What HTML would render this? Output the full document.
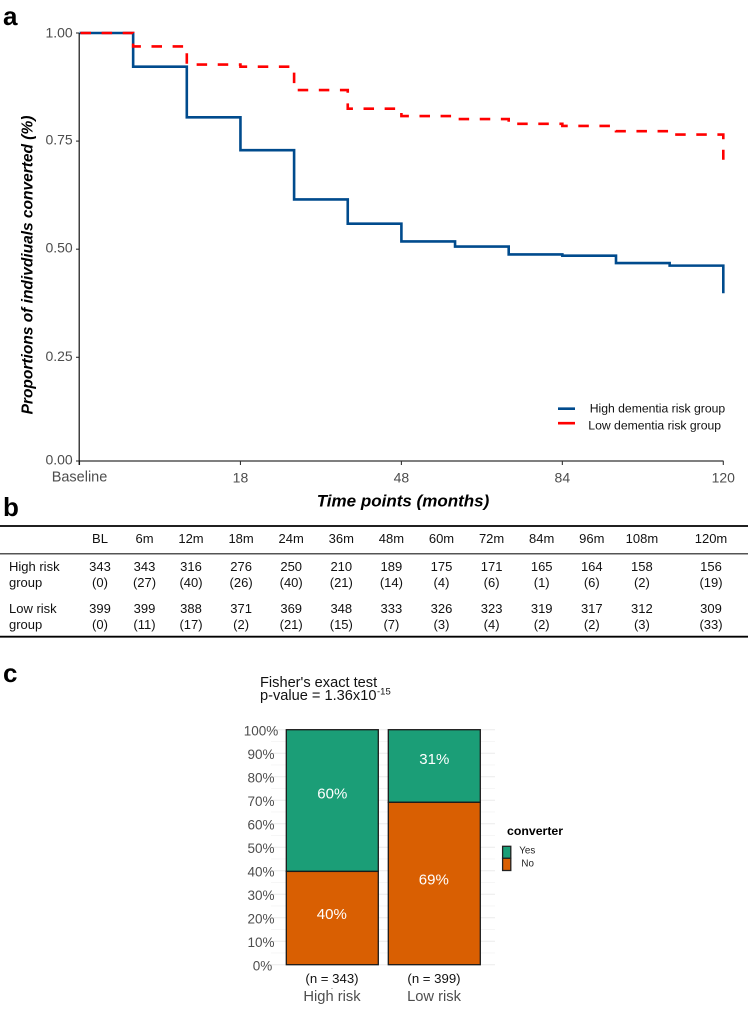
<!DOCTYPE html>
<html lang="en">
<head>
<meta charset="utf-8">
<title>Dementia risk group conversion figure</title>
<style>
html,body{margin:0;padding:0;background:#fff;}
svg{display:block;font-family:"Liberation Sans",Arial,sans-serif;}
text{dominant-baseline:central;}
</style>
</head>
<body>
<svg id="fig" xmlns="http://www.w3.org/2000/svg" width="748" height="1014" viewBox="0 0 748 1014">
  <rect width="748" height="1014" fill="#fff"/>
  <text x="3" y="16" font-size="26" font-weight="bold">a</text>
  <text x="3" y="507" font-size="26" font-weight="bold">b</text>
  <text x="3" y="673" font-size="26" font-weight="bold">c</text>
  <g id="km"></g>
  <g id="tbl"></g>
  <g id="bars"></g>
</svg>
<script>
// Panel a data
const timePoints = ["BL","6m","12m","18m","24m","36m","48m","60m","72m","84m","96m","108m","120m"];
const highRiskSurvival = [1,0.922,0.805,0.729,0.615,0.559,0.518,0.506,0.488,0.485,0.468,0.462,0.398];
const lowRiskSurvival = [1,0.969,0.927,0.922,0.868,0.825,0.808,0.801,0.790,0.785,0.773,0.765,0.707];
const yTickValues = [1,0.75,0.5,0.25,0];
const yTickLabels = ["1.00","0.75","0.50","0.25","0.00"];
const xTickIndexes = [0,3,6,9,12];
const xTickLabels = ["Baseline","18","48","84","120"];

// Panel b data
const tableHeaders = ["BL","6m","12m","18m","24m","36m","48m","60m","72m","84m","96m","108m","120m"];
const highAtRisk = [343,343,316,276,250,210,189,175,171,165,164,158,156];
const highEvents = [0,27,40,26,40,21,14,4,6,1,6,2,19];
const lowAtRisk = [399,399,388,371,369,348,333,326,323,319,317,312,309];
const lowEvents = [0,11,17,2,21,15,7,3,4,2,2,3,33];

// Panel c data
const barGroups = ["High risk","Low risk"];
const barCounts = ["(n = 343)","(n = 399)"];
const converterYes = [60.3,30.9];
const converterNo = [39.7,69.1];
const yesLabels = ["60%","31%"];
const noLabels = ["40%","69%"];
const percentTicks = [0,10,20,30,40,50,60,70,80,90,100];
const minorPercentTicks = [5,15,25,35,45,55,65,75,85,95];

const NS = "http://www.w3.org/2000/svg";
function mk(tag, attrs, parent, txt){
  const el = document.createElementNS(NS, tag);
  for (const k in attrs) el.setAttribute(k, attrs[k]);
  if (txt !== undefined) el.textContent = txt;
  parent.appendChild(el);
  return el;
}

/* ---------- Panel a ---------- */
const km = document.getElementById("km");
const kmX = i => 79.5 + i * 53.65;
const kmY = v => Math.min(461, 33 + (1 - v) * 432.4);
function stepPath(vals){
  let d = "M" + kmX(0) + " " + kmY(vals[0]);
  for (let i = 1; i < vals.length; i++){
    d += "H" + kmX(i).toFixed(2) + "V" + kmY(vals[i]).toFixed(2);
  }
  return d;
}
yTickValues.forEach((v, i) => {
  const t = mk("line", {x1:76, x2:79, y1:kmY(v), y2:kmY(v), stroke:"#333", "stroke-width":1.1}, km);
  
  
  const l = mk("text", {x:72.7, y:kmY(v) - 1.5 + (v === 1 ? 1 : 0), "text-anchor":"end", "font-size":14, fill:"#4d4d4d"}, km, yTickLabels[i]);
  
  
});
xTickIndexes.forEach((ti, i) => {
  const t = mk("line", {x1:kmX(ti), x2:kmX(ti), y1:461, y2:465, stroke:"#333", "stroke-width":1.1}, km);
  
  
  const l = mk("text", {x:kmX(ti), y:477.5, "text-anchor":"middle", "font-size":i === 0 ? 14.5 : 14, fill:"#4d4d4d"}, km, xTickLabels[i]);
  
  
});
const xAxis = mk("line", {x1:79, x2:723.5, y1:461, y2:461, stroke:"#333", "stroke-width":1.3}, km);


const yAxis = mk("line", {x1:79.2, x2:79.2, y1:33, y2:465, stroke:"#111", "stroke-width":1.2}, km);


const highLine = mk("path", {d:stepPath(highRiskSurvival), fill:"none", stroke:"#004b8d", "stroke-width":2.6}, km);


const lowLine = mk("path", {d:stepPath(lowRiskSurvival), fill:"none", stroke:"#ff0000", "stroke-width":2.6, "stroke-dasharray":"10.5 10.6", "stroke-dashoffset":-1}, km);



const yTitle = mk("text", {transform:"translate(28 265) rotate(-90)", "text-anchor":"middle", "font-size":15.5, "font-weight":"bold", "font-style":"italic"}, km, "Proportions of indivdiuals converted (%)");


const xTitle = mk("text", {x:403, y:501, "text-anchor":"middle", "font-size":17, "font-weight":"bold", "font-style":"italic"}, km, "Time points (months)");



const legHighKey = mk("line", {x1:558, x2:575, y1:408.7, y2:408.7, stroke:"#004b8d", "stroke-width":2.6}, km);


const legHighText = mk("text", {x:589.7, y:408.7, "font-size":12.2, fill:"#111"}, km, "High dementia risk group");


const legLowKey = mk("line", {x1:558, x2:575, y1:423.2, y2:423.2, stroke:"#ff0000", "stroke-width":2.6}, km);


const legLowText = mk("text", {x:588.3, y:425.5, "font-size":12.2, fill:"#111"}, km, "Low dementia risk group");



/* ---------- Panel b ---------- */
const tbl = document.getElementById("tbl");
const colX = i => i === 0 ? 100 : i === 1 ? 144.5 : i === 12 ? 711 : 191 + (i - 2) * 50.1;
const ruleTop = mk("line", {x1:0, x2:748, y1:526, y2:526, stroke:"#000", "stroke-width":1.8}, tbl);


const ruleMid = mk("line", {x1:0, x2:748, y1:553.7, y2:553.7, stroke:"#555", "stroke-width":1.5}, tbl);


const ruleBot = mk("line", {x1:0, x2:748, y1:636.7, y2:636.7, stroke:"#000", "stroke-width":1.8}, tbl);


const rowRows = [
  {vals:tableHeaders, y:538.7, fmt:v => v},
  {vals:highAtRisk, y:566.3, fmt:v => String(v)},
  {vals:highEvents, y:582.3, fmt:v => "(" + v + ")"},
  {vals:lowAtRisk, y:608.3, fmt:v => String(v)},
  {vals:lowEvents, y:624.3, fmt:v => "(" + v + ")"}
];
rowRows.forEach(r => {
  r.vals.forEach((v, i) => {
    const c = mk("text", {x:colX(i), y:r.y, "text-anchor":"middle", "font-size":13, fill:"#111"}, tbl, r.fmt(v));
    
    
  });
});
const rowLabels = ["High risk","group","Low risk","group"];
const rowLabelRows = [1,2,3,4];
rowLabels.forEach((s, i) => {
  const c = mk("text", {x:9, y:rowRows[rowLabelRows[i]].y, "font-size":13, fill:"#111"}, tbl, s);
  
  
});

/* ---------- Panel c ---------- */
const bars = document.getElementById("bars");
const pY = p => 964.7 - p * 2.35;
const barLeft = i => 286.3 + i * 102;
const barWidth = 92;
const barCenter = i => barLeft(i) + barWidth / 2;
const t1 = mk("text", {x:260, y:683, "font-size":14.6, fill:"#111"}, bars, "Fisher's exact test");


const t2 = mk("text", {x:260, y:696, "font-size":14.6, fill:"#111"}, bars, "p-value = 1.36x10");


const t3 = mk("text", {x:377, y:692, "font-size":9.5, fill:"#111"}, bars, "-15");


minorPercentTicks.forEach(p => {
  const g = mk("line", {x1:271, x2:495, y1:pY(p), y2:pY(p), stroke:"#f4f4f4", "stroke-width":0.8}, bars);
  
  
});
percentTicks.forEach(p => {
  const g = mk("line", {x1:271, x2:495, y1:pY(p), y2:pY(p), stroke:"#ebebeb", "stroke-width":1}, bars);
  
  
  const l = mk("text", {x:p === 0 ? 262.5 : 261, y:pY(p) + 1.5, "text-anchor":"middle", "font-size":13.5, fill:"#4d4d4d"}, bars, p + "%");
  
  
});
barGroups.forEach((name, i) => {
  const split = pY(converterNo[i]);
  const yes = mk("rect", {x:barLeft(i), y:pY(converterNo[i] + converterYes[i]), width:barWidth, height:converterYes[i] * 2.35, fill:"#1b9e77", stroke:"#1a1a1a", "stroke-width":1.3}, bars);
  
  
  const no = mk("rect", {x:barLeft(i), y:split, width:barWidth, height:converterNo[i] * 2.35, fill:"#d95f02", stroke:"#1a1a1a", "stroke-width":1.3}, bars);
  
  
  const yl = mk("text", {x:barCenter(i), y:pY(converterNo[i] + converterYes[i] / 2) - 6.5, "text-anchor":"middle", "font-size":15, fill:"#fff"}, bars, yesLabels[i]);
  
  
  const nl = mk("text", {x:barCenter(i) - 0.5, y:pY(converterNo[i] / 2) - 3.5, "text-anchor":"middle", "font-size":15, fill:"#fff"}, bars, noLabels[i]);
  
  
  const cnt = mk("text", {x:barCenter(i) - 0.3, y:978.7, "text-anchor":"middle", "font-size":13.2, fill:"#111"}, bars, barCounts[i]);
  
  
  const cat = mk("text", {x:barCenter(i) - 0.3, y:997, "text-anchor":"middle", "font-size":14.7, fill:"#4d4d4d"}, bars, name);
  
  
});
const strayDot = mk("circle", {cx:332, cy:988.5, r:0.5, fill:"#666"}, bars);


const legTitle = mk("text", {x:507, y:831, "font-size":12.3, "font-weight":"bold", fill:"#000"}, bars, "converter");


const swYes = mk("rect", {x:502.6, y:846.3, width:8.2, height:12, fill:"#1b9e77", stroke:"#222", "stroke-width":1.3}, bars);


const swNo = mk("rect", {x:502.6, y:858.3, width:8.2, height:12.2, fill:"#d95f02", stroke:"#222", "stroke-width":1.3}, bars);


const lbYes = mk("text", {x:527.3, y:851, "text-anchor":"middle", "font-size":9.8, fill:"#222"}, bars, "Yes");


const lbNo = mk("text", {x:527.7, y:864, "text-anchor":"middle", "font-size":9.8, fill:"#222"}, bars, "No");


</script>
</body>
</html>
